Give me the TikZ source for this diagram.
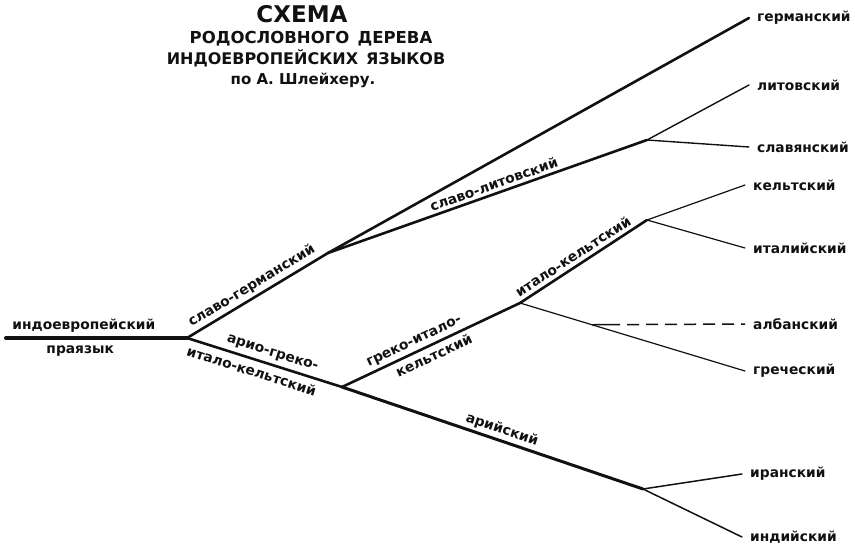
\documentclass[tikz,border=0pt]{standalone}
\usepackage{fontspec}
\setmainfont{DejaVu Sans}
\usepackage{tikz}
\usetikzlibrary{calc}
\definecolor{cInk}{HTML}{111111}
\tikzset{
  br/.style={line width=#1,color=cInk,line cap=round},
  br/.default=1.4pt,
  lbl/.style={font=\bfseries\fontsize{13.8}{15}\selectfont,text=cInk,inner sep=1pt},
  leaf/.style={lbl,anchor=west,inner xsep=8pt},
}

\begin{document}
\begin{tikzpicture}[x=1pt,y=-1pt,
      ttl/.style={font=\bfseries\fontsize{#1}{#1}\selectfont,text=cInk,inner sep=0pt}]
    \useasboundingbox (0,0) rectangle (855,546);
    % title
    \node[ttl=23] (t1) at (302,14) {СХЕМА};
    \node[ttl=16.5] (t2) at (311,39) {РОДОСЛОВНОГО\enspace ДЕРЕВА};
    \node[ttl=16] (t3) at (306,58) {ИНДОЕВРОПЕЙСКИХ\enspace ЯЗЫКОВ};
    \node[ttl=15] (t4) at (303,80) {по А. Шлейхеру.};
    % branch points
    \coordinate (root) at (6,338);
    \coordinate (pie) at (187,338);
    \coordinate (sg) at (328,253);
    \coordinate (sl) at (647,140);
    \coordinate (aigc) at (342,387);
    \coordinate (gic) at (520,303);
    \coordinate (ic) at (647,220);
    \coordinate (ar) at (643,489);
    % leaves
    \node[leaf] (ger) at (749,18) {германский};
    \node[leaf] (lit) at (749,85) {литовский};
    \node[leaf] (slav) at (749,147) {славянский};
    \node[leaf] (kelt) at (745,185) {кельтский};
    \node[leaf] (ital) at (745,248) {италийский};
    \node[leaf] (alb) at (745,324) {албанский};
    \node[leaf] (grek) at (745,371) {греческий};
    \node[leaf] (iran) at (742,474) {иранский};
    \node[leaf] (ind) at (742,537) {индийский};
    % tree
    \draw[br=4pt] (root) -- node[lbl,above=3pt,pos=0.43] {индоевропейский}
      node[lbl,below=5pt,pos=0.41] {праязык} (pie);
    \draw[br=2.6pt] (pie) -- node[lbl,sloped,above=2pt] {славо-германский} (sg);
    \draw[br=2.6pt] (pie) -- node[lbl,sloped,above=3pt,pos=0.53] {арио-греко-}
      node[lbl,sloped,below=4pt,pos=0.44] {итало-кельтский} (aigc);
    \draw[br=2.6pt] (sg) -- (ger.west);
    \draw[br=2.6pt] (sg) -- node[lbl,sloped,above=2pt,pos=0.53] {славо-литовский} (sl);
    \draw[br] (sl) -- (lit.west);
    \draw[br] (sl) -- (slav.west);
    \draw[br=2.6pt] (aigc) -- node[lbl,sloped,above=2pt,pos=0.43] {греко-итало-}
      node[lbl,sloped,below=3pt,pos=0.49] {кельтский} (gic);
    \draw[br=2.6pt] (gic) -- node[lbl,sloped,above=2.5pt,pos=0.46] {итало-кельтский} (ic);
    \draw[br=1.2pt] (ic) -- (kelt.west);
    \draw[br=1.2pt] (ic) -- (ital.west);
    \draw[br=1.2pt] (gic) -- coordinate[pos=0.32] (alb0) (grek.west);
    \draw[br=1.5pt,line cap=butt,dash pattern={on 28pt off 7pt on 12pt off 7pt on 12pt off 7pt
      on 12pt off 7pt on 12pt off 7pt on 12pt off 7pt on 12pt off 7pt on 8pt}] (alb0) -- (alb.west);
    \draw[br=3pt] (aigc) -- node[lbl,sloped,above=1.5pt,pos=0.52] {арийский} (ar);
    \draw[br=1.5pt] (ar) -- (iran.west);
    \draw[br=1.5pt] (ar) -- (ind.west);
  \end{tikzpicture}
\end{document}
